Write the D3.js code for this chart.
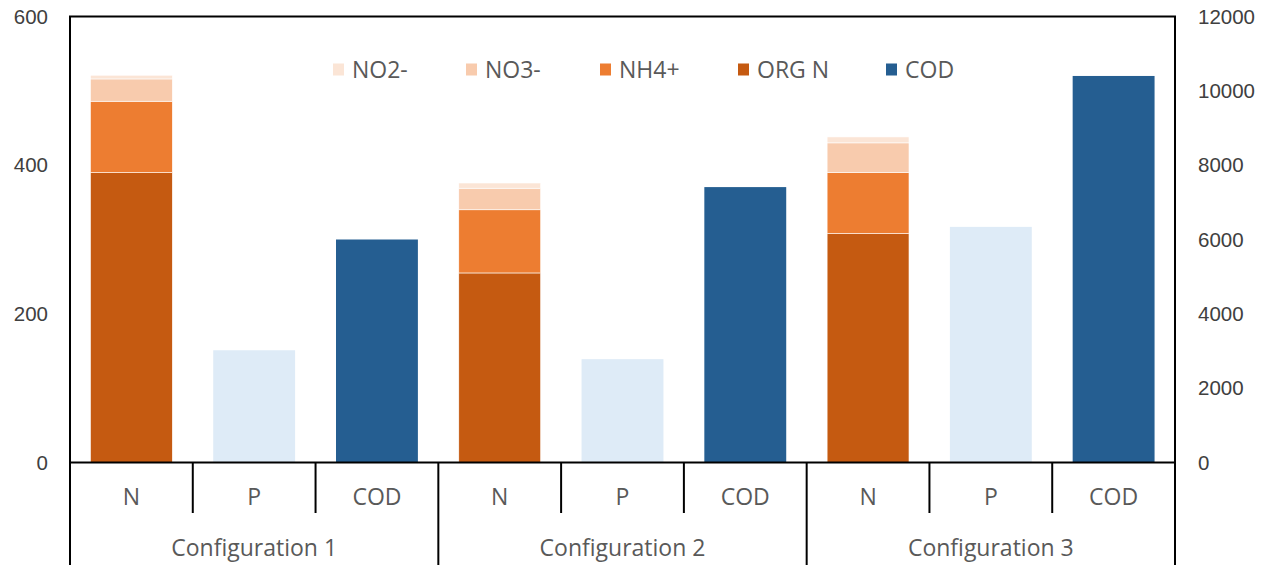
<!DOCTYPE html>
<html><head><meta charset="utf-8">
<script src="https://cdn.jsdelivr.net/npm/d3@7"></script>
<style>body{margin:0;background:#fff;}svg{display:block;font-family:"Open Sans",Lato,sans-serif;}</style>
</head><body><svg id="c" width="1270" height="565"></svg>
<script>
const configs = ["Configuration 1","Configuration 2","Configuration 3"];
const subcats = ["N","P","COD"];
const orgN = [390, 255, 308];
const nh4 = [96, 85, 82];
const no3 = [30, 29, 40];
const no2 = [5, 7, 8];
const pVals = [151, 139, 317];
const codVals = [6000, 7410, 10400];
const leftTicks = [0,200,400,600];
const rightTicks = [0,2000,4000,6000,8000,10000,12000];
const seriesNames = ["NO2-","NO3-","NH4+","ORG N","COD"];
const colors = {"NO2-":"#FBE5D6","NO3-":"#F8CBAD","NH4+":"#ED7D31","ORG N":"#C55A11","COD":"#255E91","P":"#DEEBF7"};

const svg = d3.select("#c");
const L=70, R=1175, T=16.5, B=462.5;
const keys = [];
configs.forEach((c,i)=>subcats.forEach(s=>keys.push(i+"|"+s)));
const x = d3.scaleBand().domain(keys).range([L,R]).paddingInner(0.333).paddingOuter(0.1665);
const yL = d3.scaleLinear().domain([0,600]).range([B,T]);
const yR = d3.scaleLinear().domain([0,12000]).range([B,T]);

// stacked N
const stackData = configs.map((c,i)=>({key:i+"|N","ORG N":orgN[i],"NH4+":nh4[i],"NO3-":no3[i],"NO2-":no2[i]}));
const stack = d3.stack().keys(["ORG N","NH4+","NO3-","NO2-"])(stackData);
stack.forEach(layer=>{
  svg.append("g").selectAll("rect").data(layer).join("rect")
    .attr("x",d=>x(d.data.key)).attr("width",x.bandwidth())
    .attr("y",d=>yL(d[1])).attr("height",d=>yL(d[0])-yL(d[1]))
    .attr("fill",colors[layer.key]).attr("stroke","#fff").attr("stroke-width",0.6);
});
// P
svg.append("g").selectAll("rect").data(pVals).join("rect")
  .attr("x",(d,i)=>x(i+"|P")).attr("width",x.bandwidth())
  .attr("y",d=>yL(d)).attr("height",d=>yL(0)-yL(d)).attr("fill",colors.P);
// COD
svg.append("g").selectAll("rect").data(codVals).join("rect")
  .attr("x",(d,i)=>x(i+"|COD")).attr("width",x.bandwidth())
  .attr("y",d=>yR(d)).attr("height",d=>yR(0)-yR(d)).attr("fill",colors.COD);

// frame
svg.append("rect").attr("x",L).attr("y",T).attr("width",R-L).attr("height",B-T)
  .attr("fill","none").attr("stroke","#000").attr("stroke-width",2);

// left axis
const axL = d3.axisLeft(yL).tickValues(leftTicks).tickSize(0).tickPadding(22).tickFormat(d3.format("d"));
const gL = svg.append("g").attr("transform",`translate(${L},0)`).call(axL);
gL.select(".domain").remove();
gL.selectAll("text").attr("font-size",20.5).attr("fill","#404040").style("font-family","inherit");
// right axis
const axR = d3.axisRight(yR).tickValues(rightTicks).tickSize(0).tickPadding(23).tickFormat(d3.format("d"));
const gR = svg.append("g").attr("transform",`translate(${R},0)`).call(axR);
gR.select(".domain").remove();
gR.selectAll("text").attr("font-size",20.5).attr("fill","#404040").style("font-family","inherit");

// category separators
const step = x.step();
const gC = svg.append("g");
keys.forEach((k,j)=>{
  const xb = L + j*step;
  if(j>0){
    const major = j%3===0;
    gC.append("line").attr("x1",xb).attr("x2",xb).attr("y1",B).attr("y2",major?565:513)
      .attr("stroke","#000").attr("stroke-width",2);
  }
});
gC.append("line").attr("x1",L).attr("x2",L).attr("y1",B).attr("y2",565).attr("stroke","#000").attr("stroke-width",2);
gC.append("line").attr("x1",R).attr("x2",R).attr("y1",B).attr("y2",565).attr("stroke","#000").attr("stroke-width",2);
keys.forEach(k=>{
  const s = k.split("|")[1];
  gC.append("text").attr("x",x(k)+x.bandwidth()/2).attr("y",497).attr("dy","0.35em")
    .attr("text-anchor","middle").attr("font-size",23).attr("fill","#595959").text(s);
});
configs.forEach((c,i)=>{
  gC.append("text").attr("x",L+(i*3+1.5)*step).attr("y",548).attr("dy","0.35em")
    .attr("text-anchor","middle").attr("font-size",23).attr("fill","#595959").text(c);
});

// legend
const legX = [333,466,600,738,886];
const gLeg = svg.append("g");
seriesNames.forEach((n,i)=>{
  gLeg.append("rect").attr("x",legX[i]).attr("y",63.5).attr("width",11).attr("height",12).attr("fill",colors[n]);
  gLeg.append("text").attr("x",legX[i]+19).attr("y",70).attr("dy","0.35em")
    .attr("font-size",23).attr("fill","#595959").text(n);
});
</script></body></html>
